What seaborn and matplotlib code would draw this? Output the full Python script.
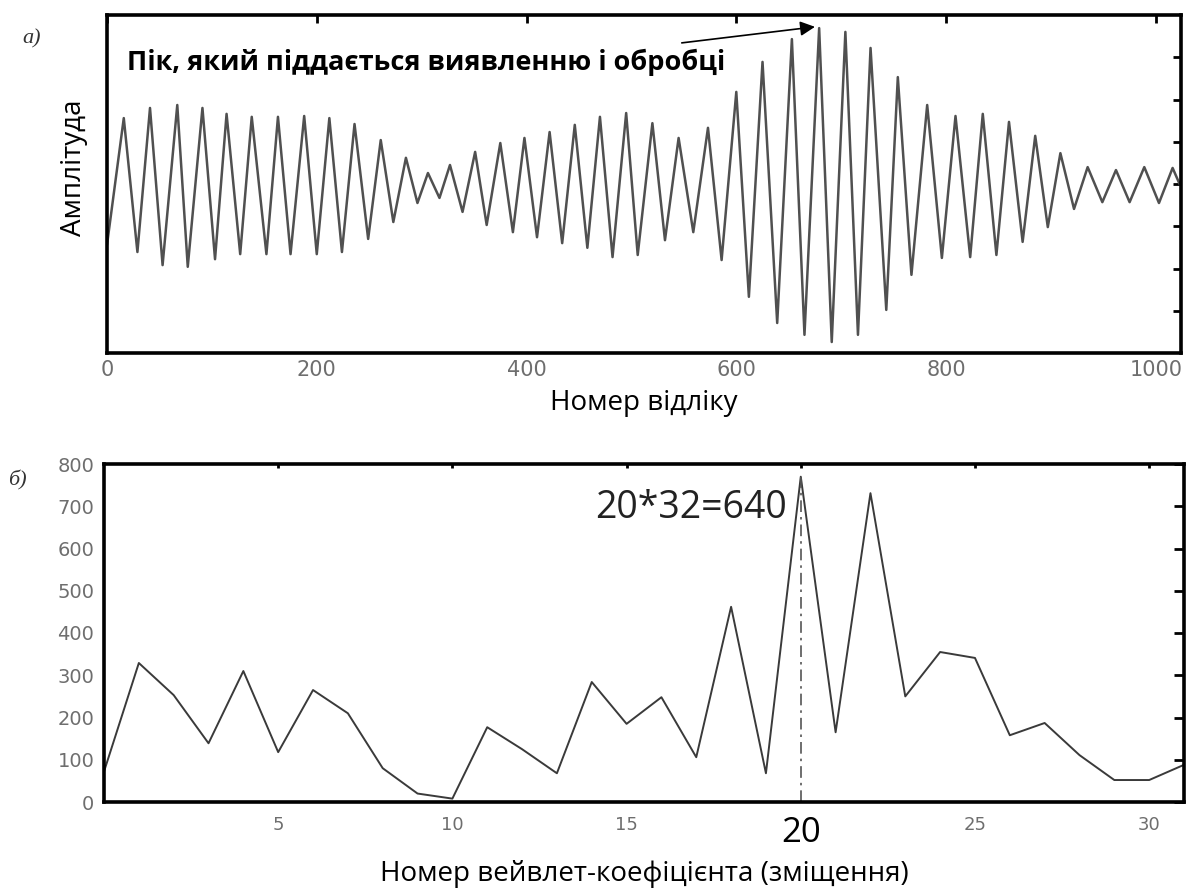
import matplotlib
matplotlib.use("Agg")
import matplotlib.pyplot as plt
import seaborn as sns

# (a) signal: sample numbers of successive extrema and their amplitudes
sample_idx = [0, 16, 29, 41, 53, 67, 77, 91, 103, 114, 127, 138, 152, 163, 175,
              188, 200, 212, 224, 236, 249, 261, 273, 285, 296, 306, 317, 327,
              339, 351, 362, 375, 387, 398, 410, 422, 434, 446, 458, 470, 482,
              495, 506, 520, 532, 545, 559, 573, 586, 600, 612, 625, 639, 653,
              665, 679, 691, 704, 716, 728, 743, 754, 767, 782, 796, 809, 823,
              835, 848, 860, 873, 885, 897, 909, 922, 935, 949, 962, 975, 989,
              1003, 1016, 1023]
amplitude = [-1.44, 1.56, -1.61, 1.80, -1.92, 1.87, -1.96, 1.80, -1.78, 1.66,
             -1.66, 1.59, -1.66, 1.59, -1.66, 1.61, -1.66, 1.56, -1.61, 1.42,
             -1.30, 1.04, -0.90, 0.62, -0.45, 0.26, -0.33, 0.45, -0.66, 0.76,
             -0.97, 0.97, -1.14, 1.09, -1.26, 1.23, -1.40, 1.40, -1.51, 1.59,
             -1.73, 1.68, -1.68, 1.44, -1.33, 1.09, -1.14, 1.33, -1.80, 2.18,
             -2.67, 2.89, -3.29, 3.43, -3.57, 3.69, -3.74, 3.60, -3.57, 3.22,
             -2.98, 2.53, -2.15, 1.87, -1.75, 1.61, -1.73, 1.66, -1.68, 1.47,
             -1.37, 1.14, -1.02, 0.73, -0.59, 0.40, -0.43, 0.33, -0.43, 0.40,
             -0.45, 0.38, -0.02]
signal_xticks = [0, 200, 400, 600, 800, 1000]

# (b) wavelet coefficients
coef_idx = list(range(32))
coef_val = [72, 329, 253, 139, 310, 118, 265, 210, 80, 20, 8, 177, 125, 68,
            284, 185, 248, 106, 462, 68, 770, 165, 731, 250, 355, 341, 158,
            187, 111, 52, 52, 88]
coef_xticks = [5, 10, 15, 20, 25, 30]
coef_yticks = list(range(0, 801, 100))
peak_coef = 20

sns.set_theme(style="white")
plt.rcParams["font.family"] = ["Open Sans", "DejaVu Sans"]

W, H = 1196, 891
fig = plt.figure(figsize=(W / 100, H / 100), dpi=100)
fig.patch.set_facecolor("white")

def frac(left, top, right, bottom):
    return [left / W, 1 - bottom / H, (right - left) / W, (bottom - top) / H]

ax1 = fig.add_axes(frac(107, 15, 1181, 353))
ax2 = fig.add_axes(frac(104, 464, 1184, 802))

tick_grey = "#6e6e6e"

def style_box(ax):
    for sp in ax.spines.values():
        sp.set_visible(True)
        sp.set_color("black")
        sp.set_linewidth(2.6)

# ---- (a) signal ----
sns.lineplot(x=sample_idx, y=amplitude, ax=ax1, color="#505050",
             linewidth=1.8, errorbar=None)
ax1.set_xlim(0, 1024)
ax1.set_ylim(-4, 4)
ax1.set_xticks(signal_xticks)
ax1.set_yticks(range(-3, 4))
ax1.set_yticklabels([])
ax1.tick_params(axis="both", direction="in", length=6, width=2,
                top=True, right=True, color="black")
ax1.tick_params(axis="x", labelsize=15, labelcolor=tick_grey, pad=5,
                labelfontfamily="DejaVu Sans")
style_box(ax1)
ax1.set_xlabel("Номер відліку", fontsize=20, color="black")
ax1.xaxis.set_label_coords(0.5, -0.107)
ax1.set_ylabel("Амплітуда", fontsize=20, color="black")
ax1.yaxis.set_label_coords(-0.018, 0.547)

ax1.text(19, 2.88, "Пік, який піддається виявленню і обробці",
         fontsize=19.5, fontweight="bold", color="black",
         ha="left", va="center")
ax1.annotate("", xy=(675, 3.72), xytext=(548, 3.34),
             arrowprops=dict(arrowstyle="-|>", color="black", lw=1.2,
                             mutation_scale=22, shrinkA=0, shrinkB=0))

# ---- (b) wavelet coefficients ----
sns.lineplot(x=coef_idx, y=coef_val, ax=ax2, color="#3a3a3a",
             linewidth=1.4, errorbar=None)
ax2.vlines(peak_coef, 0, coef_val[peak_coef], colors="#555555",
           linestyles=(0, (7, 3, 1.5, 3)), linewidth=1.2)
ax2.set_xlim(0, 31)
ax2.set_ylim(0, 800)
ax2.set_yticks(coef_yticks)
ax2.set_xticks(coef_xticks)
ax2.set_xticklabels([str(v) for v in coef_xticks])
ax2.tick_params(axis="y", direction="in", length=7, width=2, right=True,
                labelsize=14, labelcolor=tick_grey, pad=7,
                labelfontfamily="DejaVu Sans", color="black")
ax2.tick_params(axis="x", direction="in", length=3, width=2, top=True,
                labelsize=13, labelcolor=tick_grey, pad=10,
                labelfontfamily="DejaVu Sans", color="black")
for lbl in ax2.get_xticklabels():
    if lbl.get_text() == str(peak_coef):
        lbl.set_fontsize(25)
        lbl.set_color("black")
        lbl.set_family(["Open Sans", "DejaVu Sans"])
style_box(ax2)
ax2.set_xlabel("Номер вейвлет-коефіцієнта (зміщення)", fontsize=20,
               color="black")
ax2.xaxis.set_label_coords(0.5, -0.171)

ax2.text(19.6, 695, f"{peak_coef}*32={peak_coef * 32}", fontsize=27,
         color="#222222", ha="right", va="center")

# panel letters
fig.text(22 / W, 1 - 39 / H, "а)", fontsize=16, fontstyle="italic",
         family="Liberation Serif", color="#333333", va="center")
fig.text(8 / W, 1 - 480 / H, "б)", fontsize=16, fontstyle="italic",
         family="Liberation Serif", color="#333333", va="center")

fig.savefig("out.png", dpi=100, facecolor="white")
